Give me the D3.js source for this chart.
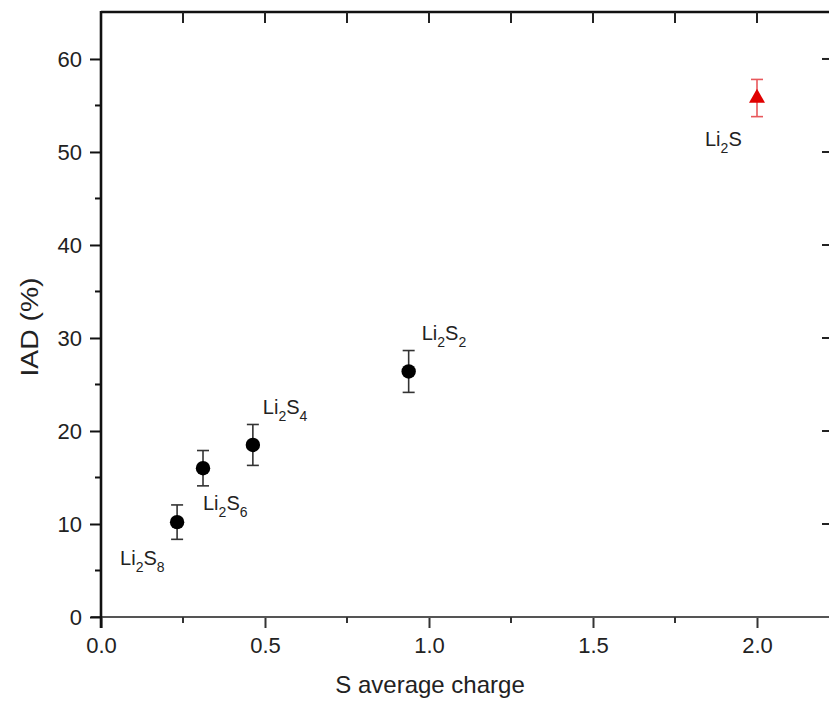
<!DOCTYPE html>
<html><head><meta charset="utf-8">
<script src="https://cdn.jsdelivr.net/npm/d3@7"></script>
<style>body{margin:0;background:#fff;}svg{display:block;font-family:"Liberation Sans",Arial,sans-serif;}</style>
</head><body>
<svg id="c" width="829" height="704"></svg>
<script>
const compounds = ["Li2S8","Li2S6","Li2S4","Li2S2","Li2S"];
const sCharge = [0.232, 0.311, 0.463, 0.938, 2.0];
const iad = [10.2, 16.0, 18.5, 26.4, 55.8];
const iadErr = [1.85, 1.9, 2.2, 2.25, 2.0];
const xTicks = [0.0, 0.5, 1.0, 1.5, 2.0];
const yTicks = [0, 10, 20, 30, 40, 50, 60];

const svg = d3.select("#c");
const L = 101, T = 12, B = 617, R = 101 + 2.22*328;
const x = d3.scaleLinear().domain([0, 2.22]).range([L, R]);
const y = d3.scaleLinear().domain([0, 65.05]).range([B, T]);
const FF = "Liberation Sans, Arial, sans-serif";

// top axis (inward ticks)
svg.append("line").attr("x1",L).attr("x2",829).attr("y1",T).attr("y2",T).attr("stroke","#111").attr("stroke-width",2.5);
const topTicks = d3.range(0, 2.26, 0.25);
svg.selectAll(".tt").data(topTicks).enter().append("line")
  .attr("x1",d=>x(d)).attr("x2",d=>x(d)).attr("y1",T).attr("y2",T+11)
  .attr("stroke","#222").attr("stroke-width",2);
// right axis inward ticks (axis line itself out of view)
const rightTicks = d3.range(0, 61, 10);
svg.selectAll(".rt").data(rightTicks).enter().append("line")
  .attr("x1",822).attr("x2",829).attr("y1",d=>y(d)).attr("y2",d=>y(d))
  .attr("stroke","#222").attr("stroke-width",2);

// bottom axis
const xAxis = d3.axisBottom(x).tickValues(xTicks).tickFormat(d3.format(".1f")).tickSize(11).tickPadding(9);
const gx = svg.append("g").attr("transform",`translate(0,${B})`).call(xAxis);
gx.select(".domain").remove();
gx.selectAll(".tick line").attr("stroke","#333").attr("stroke-width",2);
gx.selectAll(".tick text").attr("font-size",22).attr("fill","#222").attr("font-family",FF);
svg.append("line").attr("x1",L-10).attr("x2",829).attr("y1",B).attr("y2",B).attr("stroke","#555").attr("stroke-width",2);
svg.selectAll(".xm").data([0.25,0.75,1.25,1.75]).enter().append("line")
  .attr("x1",d=>x(d)).attr("x2",d=>x(d)).attr("y1",B).attr("y2",B+6).attr("stroke","#333").attr("stroke-width",2);

// left axis
const yAxis = d3.axisLeft(y).tickValues(yTicks).tickSize(11).tickPadding(8);
const gy = svg.append("g").attr("transform",`translate(${L},0)`).call(yAxis);
gy.select(".domain").remove();
gy.selectAll(".tick line").attr("stroke","#111").attr("stroke-width",2);
gy.selectAll(".tick text").attr("font-size",22).attr("fill","#222").attr("font-family",FF);
svg.selectAll(".ym").data([5,15,25,35,45,55]).enter().append("line")
  .attr("x1",L-6).attr("x2",L).attr("y1",d=>y(d)).attr("y2",d=>y(d)).attr("stroke","#111").attr("stroke-width",2);
svg.append("line").attr("x1",L).attr("x2",L).attr("y1",T-1).attr("y2",B+11).attr("stroke","#111").attr("stroke-width",2.6);

// axis titles
svg.append("text").attr("x",430).attr("y",693).attr("text-anchor","middle").attr("font-size",24).attr("fill","#222").text("S average charge");
svg.append("text").attr("transform","translate(38,327) rotate(-90)").attr("text-anchor","middle").attr("font-size",23)
  .attr("textLength",99).attr("lengthAdjust","spacingAndGlyphs").attr("fill","#222").text("IAD (%)");

// data
const data = compounds.map((c,i)=>({c, x:sCharge[i], y:iad[i], e:iadErr[i]}));
data.forEach((d,i)=>{
  const red = d.c === "Li2S";
  const col = red ? "#e8585c" : "#333";
  const cx = x(d.x), y1 = y(d.y+d.e), y2 = y(d.y-d.e);
  svg.append("line").attr("x1",cx).attr("x2",cx).attr("y1",y1).attr("y2",y2).attr("stroke",col).attr("stroke-width",1.6);
  [y1,y2].forEach(yy=>svg.append("line").attr("x1",cx-6).attr("x2",cx+6).attr("y1",yy).attr("y2",yy).attr("stroke",col).attr("stroke-width",1.6));
  if(red){
    svg.append("path").attr("d", d3.symbol(d3.symbolTriangle, 110)()).attr("transform",`translate(${cx},${y(d.y)})`).attr("fill","#e00000");
  } else {
    svg.append("circle").attr("cx",cx).attr("cy",y(d.y)).attr("r",7.2).attr("fill","#000");
  }
});

// labels (positions relative to data points)
const labelOff = {
  "Li2S8": [-57, 43, "Li","2","S","8"],
  "Li2S6": [0, 42, "Li","2","S","6"],
  "Li2S4": [10, -31, "Li","2","S","4"],
  "Li2S2": [13, -31, "Li","2","S","2"],
  "Li2S":  [-52, 48, "Li","2","S",""]
};
data.forEach(d=>{
  const o = labelOff[d.c];
  const t = svg.append("text").attr("x", x(d.x)+o[0]).attr("y", y(d.y)+o[1]).attr("font-size",20).attr("fill","#222");
  t.append("tspan").text(o[2]);
  t.append("tspan").attr("font-size",14).attr("dy",7).text(o[3]);
  t.append("tspan").attr("dy",-7).text(o[4]);
  if(o[5]) t.append("tspan").attr("font-size",14).attr("dy",7).text(o[5]);
});
</script>
</body></html>
